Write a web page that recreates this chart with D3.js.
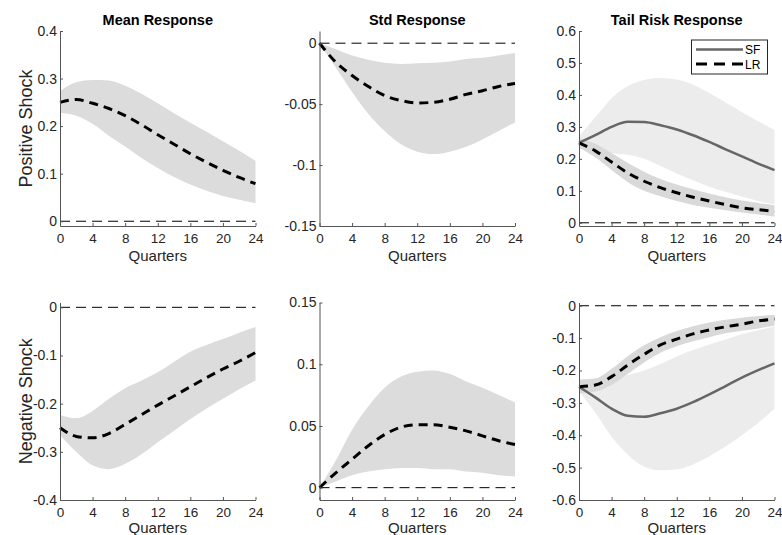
<!DOCTYPE html>
<html>
<head>
<meta charset="utf-8">
<script src="https://cdn.jsdelivr.net/npm/d3@7"></script>
<style>
  body { margin: 0; background: #fff; }
  svg { display: block; font-family: "Liberation Sans", Arial, sans-serif; }
</style>
</head>
<body>
<svg id="chart" width="782" height="535"></svg>
<script>
'use strict';

// horizon (quarters) at which values were read
var quarters = [0, 2, 4, 6, 8, 10, 12, 14, 16, 18, 20, 22, 24];
var xTicks = [0, 4, 8, 12, 16, 20, 24];

var titles = ['Mean Response', 'Std Response', 'Tail Risk Response'];
var rowLabels = ['Positive Shock', 'Negative Shock'];
var legendLabels = ['SF', 'LR'];

// positive shock, mean response
var meanPosMid = [0.25, 0.256, 0.248, 0.237, 0.222, 0.203, 0.182, 0.162, 0.142, 0.124, 0.107, 0.092, 0.079];
var meanPosHi  = [0.274, 0.292, 0.297, 0.296, 0.285, 0.268, 0.248, 0.227, 0.207, 0.188, 0.168, 0.148, 0.127];
var meanPosLo  = [0.228, 0.222, 0.205, 0.18, 0.157, 0.133, 0.112, 0.093, 0.077, 0.064, 0.053, 0.045, 0.038];

// positive shock, std response
var stdPosMid = [0, -0.0156, -0.0265, -0.0355, -0.043, -0.047, -0.049, -0.0485, -0.046, -0.042, -0.039, -0.0355, -0.033];
var stdPosHi  = [0, -0.005, -0.01, -0.0135, -0.016, -0.017, -0.0165, -0.016, -0.015, -0.013, -0.012, -0.01, -0.008];
var stdPosLo  = [0, -0.02, -0.04, -0.058, -0.072, -0.083, -0.089, -0.091, -0.089, -0.085, -0.079, -0.072, -0.065];

// positive shock, tail risk (SF and LR)
var tailPosSF   = [0.25, 0.274, 0.3, 0.316, 0.315, 0.305, 0.292, 0.274, 0.253, 0.23, 0.208, 0.185, 0.165];
var tailPosSFHi = [0.27, 0.33, 0.39, 0.428, 0.447, 0.453, 0.448, 0.432, 0.406, 0.376, 0.346, 0.318, 0.29];
var tailPosSFLo = [0.24, 0.228, 0.217, 0.213, 0.2, 0.178, 0.154, 0.133, 0.113, 0.097, 0.082, 0.068, 0.058];
var tailPosLR   = [0.25, 0.225, 0.19, 0.156, 0.13, 0.11, 0.094, 0.08, 0.068, 0.057, 0.047, 0.041, 0.036];
var tailPosLRHi = [0.265, 0.247, 0.218, 0.187, 0.16, 0.137, 0.12, 0.105, 0.092, 0.08, 0.07, 0.062, 0.055];
var tailPosLRLo = [0.235, 0.205, 0.165, 0.127, 0.1, 0.083, 0.068, 0.056, 0.047, 0.039, 0.032, 0.026, 0.019];

// negative shock, mean response
var meanNegMid = [-0.25, -0.268, -0.271, -0.262, -0.243, -0.223, -0.203, -0.184, -0.165, -0.146, -0.128, -0.112, -0.094];
var meanNegHi  = [-0.224, -0.23, -0.215, -0.19, -0.168, -0.152, -0.135, -0.113, -0.092, -0.078, -0.066, -0.053, -0.041];
var meanNegLo  = [-0.265, -0.3, -0.328, -0.336, -0.325, -0.305, -0.28, -0.256, -0.232, -0.21, -0.19, -0.17, -0.152];

// negative shock, std response
var stdNegMid = [0, 0.012, 0.023, 0.034, 0.043, 0.049, 0.051, 0.051, 0.049, 0.046, 0.042, 0.038, 0.035];
var stdNegHi  = [0, 0.022, 0.047, 0.066, 0.081, 0.09, 0.094, 0.095, 0.092, 0.086, 0.081, 0.075, 0.069];
var stdNegLo  = [0, 0.005, 0.01, 0.013, 0.015, 0.016, 0.016, 0.015, 0.015, 0.013, 0.012, 0.01, 0.009];

// negative shock, tail risk (SF and LR)
var tailNegSF   = [-0.25, -0.283, -0.318, -0.34, -0.343, -0.332, -0.318, -0.298, -0.274, -0.248, -0.222, -0.199, -0.178];
var tailNegSFHi = [-0.24, -0.232, -0.226, -0.214, -0.2, -0.18, -0.157, -0.137, -0.12, -0.104, -0.088, -0.076, -0.065];
var tailNegSFLo = [-0.265, -0.33, -0.405, -0.46, -0.497, -0.508, -0.505, -0.49, -0.465, -0.435, -0.4, -0.362, -0.318];
var tailNegLR   = [-0.25, -0.245, -0.219, -0.183, -0.15, -0.121, -0.103, -0.087, -0.075, -0.065, -0.057, -0.047, -0.041];
var tailNegLRHi = [-0.228, -0.225, -0.195, -0.155, -0.122, -0.097, -0.078, -0.063, -0.052, -0.043, -0.037, -0.032, -0.028];
var tailNegLRLo = [-0.27, -0.265, -0.245, -0.21, -0.175, -0.145, -0.125, -0.11, -0.097, -0.085, -0.077, -0.07, -0.062];

// y ticks for each panel
var yTicksMeanPos = [0, 0.1, 0.2, 0.3, 0.4];
var yTicksStdPos  = [-0.15, -0.1, -0.05, 0];
var yTicksTailPos = [0, 0.1, 0.2, 0.3, 0.4, 0.5, 0.6];
var yTicksMeanNeg = [-0.4, -0.3, -0.2, -0.1, 0];
var yTicksStdNeg  = [0, 0.05, 0.1, 0.15];
var yTicksTailNeg = [-0.6, -0.5, -0.4, -0.3, -0.2, -0.1, 0];

var panels = [
  { row: 0, col: 0, ylim: [-0.01, 0.4], ticks: yTicksMeanPos,
    bands: [{ lo: meanPosLo, hi: meanPosHi, fill: '#dcdcdc' }],
    lines: [{ v: meanPosMid, kind: 'LR' }] },
  { row: 0, col: 1, ylim: [-0.15, 0.01], ticks: yTicksStdPos,
    bands: [{ lo: stdPosLo, hi: stdPosHi, fill: '#dcdcdc' }],
    lines: [{ v: stdPosMid, kind: 'LR' }] },
  { row: 0, col: 2, ylim: [-0.01, 0.6], ticks: yTicksTailPos, legend: true,
    bands: [{ lo: tailPosSFLo, hi: tailPosSFHi, fill: '#ececec' },
            { lo: tailPosLRLo, hi: tailPosLRHi, fill: '#d9d9d9' }],
    lines: [{ v: tailPosSF, kind: 'SF' }, { v: tailPosLR, kind: 'LR' }] },
  { row: 1, col: 0, ylim: [-0.4, 0.01], ticks: yTicksMeanNeg,
    bands: [{ lo: meanNegLo, hi: meanNegHi, fill: '#dcdcdc' }],
    lines: [{ v: meanNegMid, kind: 'LR' }] },
  { row: 1, col: 1, ylim: [-0.01, 0.15], ticks: yTicksStdNeg,
    bands: [{ lo: stdNegLo, hi: stdNegHi, fill: '#dcdcdc' }],
    lines: [{ v: stdNegMid, kind: 'LR' }] },
  { row: 1, col: 2, ylim: [-0.6, 0.01], ticks: yTicksTailNeg,
    bands: [{ lo: tailNegSFLo, hi: tailNegSFHi, fill: '#ececec' },
            { lo: tailNegLRLo, hi: tailNegLRHi, fill: '#d9d9d9' }],
    lines: [{ v: tailNegSF, kind: 'SF' }, { v: tailNegLR, kind: 'LR' }] }
];

var colLeft = [60, 319.5, 579];
var plotW = 195.5;
var rowTop = [31, 302.5];
var rowBottom = [226, 500];

var lineStyle = {
  SF: { stroke: '#666666', width: 2.5, dash: null },
  LR: { stroke: '#000000', width: 3, dash: '9,6' }
};

var svg = d3.select('#chart');
var fmt = function(d) { return String(+d.toFixed(2)); };

panels.forEach(function(p) {
  var x0 = colLeft[p.col], y0 = rowTop[p.row], y1 = rowBottom[p.row];
  var x = d3.scaleLinear().domain([0, 24]).range([x0, x0 + plotW]);
  var y = d3.scaleLinear().domain(p.ylim).range([y1, y0]);
  var g = svg.append('g');

  p.bands.forEach(function(b) {
    var area = d3.area()
      .x(function(d, i) { return x(quarters[i]); })
      .y0(function(d, i) { return y(b.lo[i]); })
      .y1(function(d, i) { return y(b.hi[i]); })
      .curve(d3.curveMonotoneX);
    g.append('path').attr('d', area(quarters)).attr('fill', b.fill);
  });

  // zero reference line
  g.append('line')
    .attr('x1', x(0)).attr('x2', x(24))
    .attr('y1', y(0)).attr('y2', y(0))
    .attr('stroke', '#000').attr('stroke-width', 1)
    .attr('stroke-dasharray', '10,6');

  p.lines.forEach(function(l) {
    var st = lineStyle[l.kind];
    var line = d3.line()
      .x(function(d, i) { return x(quarters[i]); })
      .y(function(d) { return y(d); })
      .curve(d3.curveMonotoneX);
    g.append('path').attr('d', line(l.v))
      .attr('fill', 'none')
      .attr('stroke', st.stroke)
      .attr('stroke-width', st.width)
      .attr('stroke-dasharray', st.dash);
  });

  var xAxis = g.append('g').attr('transform', 'translate(0,' + y1 + ')')
    .call(d3.axisBottom(x).tickValues(xTicks).tickSizeInner(-3).tickSizeOuter(0).tickPadding(7));
  var yAxis = g.append('g').attr('transform', 'translate(' + x0 + ',0)')
    .call(d3.axisLeft(y).tickValues(p.ticks).tickFormat(fmt).tickSizeInner(-3).tickSizeOuter(0).tickPadding(3));

  [xAxis, yAxis].forEach(function(a, k) {
    a.selectAll('path, line').attr('stroke', '#555');
    a.selectAll('text').attr('fill', '#262626').style('font-size', k === 0 ? '13.5px' : '14px')
      .style('font-family', '"Liberation Sans", Arial, sans-serif');
  });

  g.append('text')
    .attr('x', x(12)).attr('y', y1 + (p.row === 0 ? 35 : 33))
    .attr('text-anchor', 'middle').attr('fill', '#262626')
    .style('font-size', '15px')
    .text('Quarters');

  if (p.row === 0) {
    g.append('text')
      .attr('x', x(12)).attr('y', 25)
      .attr('text-anchor', 'middle').attr('fill', '#000')
      .style('font-size', '14.5px').style('font-weight', 'bold')
      .text(titles[p.col]);
  }

  if (p.col === 0) {
    g.append('text')
      .attr('transform', 'translate(31.5,' + ((y0 + y1) / 2) + ') rotate(-90)')
      .attr('text-anchor', 'middle').attr('fill', '#262626')
      .style('font-size', '18px')
      .text(rowLabels[p.row]);
  }

  if (p.legend) {
    var lg = g.append('g');
    lg.append('rect')
      .attr('x', 691.5).attr('y', 40).attr('width', 76).attr('height', 34)
      .attr('fill', '#fff').attr('stroke', '#262626').attr('stroke-width', 1);
    legendLabels.forEach(function(name, i) {
      var st = lineStyle[name];
      var ly = 49.5 + i * 14.5;
      lg.append('line')
        .attr('x1', 696).attr('x2', 743).attr('y1', ly).attr('y2', ly)
        .attr('stroke', st.stroke).attr('stroke-width', st.width)
        .attr('stroke-dasharray', name === 'LR' ? '11,7' : null);
      lg.append('text')
        .attr('x', 745).attr('y', ly + 4.5)
        .attr('fill', '#000').style('font-size', '12px')
        .text(name);
    });
  }
});
</script>
</body>
</html>
